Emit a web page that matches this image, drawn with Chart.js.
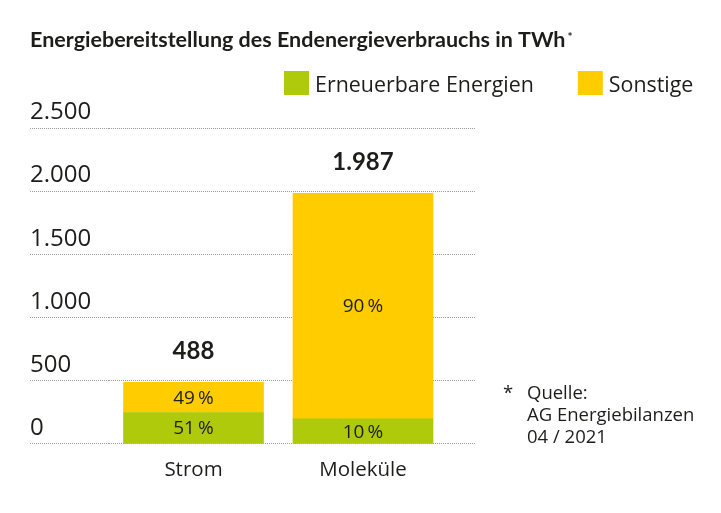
<!DOCTYPE html>
<html lang="de">
<head>
<meta charset="utf-8">
<title>Endenergieverbrauch</title>
<script src="https://cdn.jsdelivr.net/npm/chart.js@4"></script>
<style>
  html, body { margin: 0; padding: 0; background: #fff; }
  #wrap { width: 721px; height: 513px; }
</style>
</head>
<body>
<div id="wrap"><canvas id="chart"></canvas></div>
<script>
// Daten
const categories = ['Strom', 'Moleküle'];
const totals = [488, 1987];
const shareRenewable = [51, 10];
const shareOther = [49, 90];
const seriesNames = ['Erneuerbare Energien', 'Sonstige'];
const seriesColors = ['#afca0b', '#ffcc00'];
const yTicks = [0, 500, 1000, 1500, 2000, 2500];
const titleText = 'Energiebereitstellung des Endenergieverbrauchs in TWh';
const sourceLines = ['Quelle:', 'AG Energiebilanzen', '04 / 2021'];

const TEXT = '#1d1d1b';
const GRID = '#9a9a9a';
const fmt = v => v.toLocaleString('de-DE');
const shares = [shareRenewable, shareOther];

// Gitterlinien links über die Achse hinaus (Achsenbreite fest)
const LEFT_EXT = 78.75, RIGHT_EXT = 27.25;

const extras = {
  id: 'extras',
  afterDatasetsDraw(chart) {
    const ctx = chart.ctx;
    ctx.save();
    ctx.fillStyle = TEXT;
    ctx.textAlign = 'center';
    ctx.textBaseline = 'middle';
    ctx.font = '19px "Open Sans"';
    chart.data.datasets.forEach((ds, d) => {
      chart.getDatasetMeta(d).data.forEach((bar, i) => {
        ctx.fillText(shares[d][i] + '\u2009%', bar.x, (bar.y + bar.base) / 2 + 1);
      });
    });
    const top = chart.getDatasetMeta(chart.data.datasets.length - 1).data;
    ctx.font = 'bold 24px Lato';
    ctx.textBaseline = 'alphabetic';
    top.forEach((bar, i) => ctx.fillText(fmt(totals[i]), bar.x, bar.y - 23));
    ctx.restore();
  },
  afterDraw(chart) {
    const ctx = chart.ctx;
    ctx.save();
    ctx.fillStyle = TEXT;
    ctx.textBaseline = 'alphabetic';
    ctx.textAlign = 'left';

    // Titel
    ctx.font = 'bold 21.5px Lato';
    ctx.fillText(titleText, 30, 47);
    const tw = ctx.measureText(titleText).width;
    ctx.font = 'bold 12px Lato';
    ctx.fillText('*', 30 + tw + 2, 41);

    // Legende
    ctx.font = '21.4px "Open Sans"';
    let x = 284;
    chart.data.datasets.forEach(ds => {
      ctx.fillStyle = ds.backgroundColor;
      ctx.fillRect(x, 71, 25, 24);
      ctx.fillStyle = TEXT;
      ctx.fillText(ds.label, x + 31, 91.5);
      x += 31 + ctx.measureText(ds.label).width + 44;
    });

    // Quelle
    ctx.font = '18.5px "Open Sans"';
    ctx.fillText('*', 503, 399);
    sourceLines.forEach((t, i) => ctx.fillText(t, 527, 399 + i * 21.8));
    ctx.restore();
  }
};

const yGrid = { color: GRID, lineWidth: 1, tickColor: GRID, tickWidth: 1, tickBorderDash: [1, 1] };

new Chart(document.getElementById('chart'), {
  type: 'bar',
  data: {
    labels: categories,
    datasets: seriesNames.map((name, d) => ({
      label: name,
      data: totals.map((t, i) => t * shares[d][i] / 100),
      backgroundColor: seriesColors[d]
    }))
  },
  options: {
    responsive: true,
    maintainAspectRatio: false,
    animation: false,
    barThickness: 140,
    layout: { padding: { left: 30, right: 246, top: 128.5, bottom: 16.5 } },
    plugins: {
      legend: { display: false },
      tooltip: { enabled: false },
      title: { display: false }
    },
    scales: {
      x: {
        stacked: true,
        grid: { display: false, drawTicks: false },
        border: { display: false },
        ticks: {
          padding: 14,
          color: TEXT,
          font: { family: 'Open Sans', size: 20.5 }
        }
      },
      y: {
        stacked: true,
        min: 0,
        max: 2500,
        afterBuildTicks: s => { s.ticks = yTicks.map(v => ({ value: v })); },
        afterFit: s => { s.width = LEFT_EXT; },
        grid: Object.assign({ drawTicks: true, tickLength: LEFT_EXT }, yGrid),
        border: { display: false, dash: [1, 1] },
        ticks: {
          crossAlign: 'far',
          padding: 0,
          labelOffset: -16,
          color: TEXT,
          font: { family: 'Open Sans', size: 24 },
          callback: v => fmt(v)
        }
      },
      y2: {
        position: 'right',
        min: 0,
        max: 2500,
        afterBuildTicks: s => { s.ticks = yTicks.map(v => ({ value: v })); },
        afterFit: s => { s.width = RIGHT_EXT; },
        grid: Object.assign({ drawOnChartArea: false, drawTicks: true, tickLength: RIGHT_EXT }, yGrid),
        border: { display: false },
        ticks: { display: false }
      }
    }
  },
  plugins: [extras]
});
</script>
</body>
</html>
